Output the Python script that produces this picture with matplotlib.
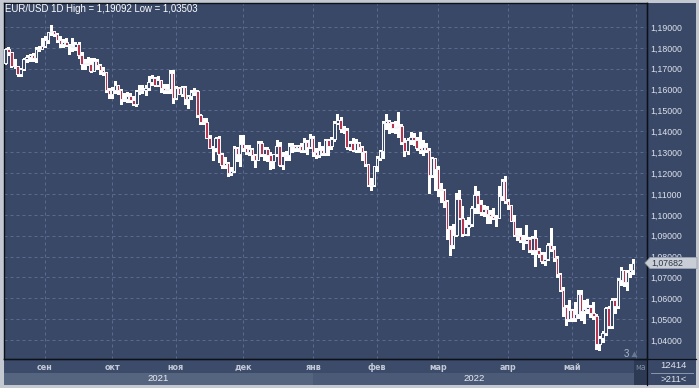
import matplotlib
matplotlib.use("Agg")
import matplotlib.pyplot as plt
from matplotlib.patches import Polygon, Rectangle
import numpy as np
import pandas as pd

# ---------------- data (EUR/USD daily, 13 Aug 2021 .. 30 May 2022) ----------------
start_date = "2021-08-13"
end_date = "2022-05-30"

opens = [
    # Aug
    1.1728, 1.1796, 1.1778, 1.1712, 1.1711, 1.1675, 1.1700, 1.1745, 1.1757, 1.1767, 1.1750, 1.1794, 1.1796,
    # Sep
    1.1808, 1.1840, 1.1874, 1.1880, 1.1868, 1.1838, 1.1818, 1.1826, 1.1813, 1.1808, 1.1805, 1.1818, 1.1765,
    1.1725, 1.1726, 1.1723, 1.1690, 1.1739, 1.1720, 1.1696, 1.1683, 1.1597,
    # Oct
    1.1580, 1.1596, 1.1620, 1.1598, 1.1553, 1.1553, 1.1570, 1.1552, 1.1529, 1.1594, 1.1600, 1.1600, 1.1608,
    1.1635, 1.1655, 1.1622, 1.1645, 1.1607, 1.1598, 1.1602, 1.1680,
    # Nov
    1.1558, 1.1606, 1.1578, 1.1612, 1.1555, 1.1567, 1.1587, 1.1592, 1.1478, 1.1446, 1.1445, 1.1368, 1.1320,
    1.1320, 1.1370, 1.1290, 1.1238, 1.1250, 1.1200, 1.1210, 1.1318, 1.1290,
    # Dec
    1.1338, 1.1320, 1.1300, 1.1315, 1.1285, 1.1265, 1.1343, 1.1290, 1.1315, 1.1285, 1.1258, 1.1290, 1.1330,
    1.1238, 1.1280, 1.1285, 1.1330, 1.1328, 1.1320, 1.1330, 1.1310, 1.1350, 1.1325,
    # Jan
    1.1370, 1.1300, 1.1285, 1.1312, 1.1295, 1.1360, 1.1330, 1.1365, 1.1442, 1.1455, 1.1412, 1.1405, 1.1325,
    1.1345, 1.1312, 1.1345, 1.1325, 1.1300, 1.1242, 1.1145, 1.1145,
    # Feb
    1.1235, 1.1270, 1.1305, 1.1440, 1.1450, 1.1440, 1.1415, 1.1420, 1.1425, 1.1350, 1.1305, 1.1360, 1.1375,
    1.1360, 1.1320, 1.1310, 1.1325, 1.1310, 1.1190, 1.1270,
    # Mar
    1.1220, 1.1125, 1.1120, 1.1065, 1.0930, 1.0855, 1.0905, 1.1075, 1.0985, 1.0910, 1.0940, 1.0955, 1.1035,
    1.1095, 1.1050, 1.1015, 1.1030, 1.1005, 1.0995, 1.0985, 1.0985, 1.1090, 1.1160,
    # Apr
    1.1065, 1.1045, 1.0970, 1.0905, 1.0900, 1.0880, 1.0875, 1.0885, 1.0830, 1.0890, 1.0830, 1.0810, 1.0780,
    1.0790, 1.0855, 1.0835, 1.0795, 1.0715, 1.0640, 1.0560, 1.0500,
    # May
    1.0545, 1.0505, 1.0525, 1.0620, 1.0540, 1.0550, 1.0560, 1.0530, 1.0515, 1.0380, 1.0410, 1.0435, 1.0555,
    1.0465, 1.0590, 1.0565, 1.0690, 1.0735, 1.0680, 1.0725, 1.0735,
]
highs = [
    1.1797, 1.1805, 1.1780, 1.1749, 1.1712, 1.1703, 1.1752, 1.1766, 1.1773, 1.1777, 1.1802, 1.1810, 1.1846,
    1.1857, 1.1878, 1.19092, 1.1883, 1.1870, 1.1856, 1.1843, 1.1847, 1.1817, 1.1845, 1.1830, 1.1829, 1.1779,
    1.1749, 1.1755, 1.1751, 1.1750, 1.1747, 1.1725, 1.1706, 1.1685, 1.1608,
    1.1613, 1.1641, 1.1624, 1.1603, 1.1584, 1.1587, 1.1586, 1.1570, 1.1597, 1.1624, 1.1624, 1.1624, 1.1667,
    1.1668, 1.1660, 1.1664, 1.1645, 1.1625, 1.1625, 1.1692, 1.1692,
    1.1616, 1.1614, 1.1616, 1.1617, 1.1572, 1.1598, 1.1608, 1.1598, 1.1484, 1.1465, 1.1463, 1.1384, 1.1331,
    1.1374, 1.1376, 1.1298, 1.1275, 1.1255, 1.1229, 1.1330, 1.1326, 1.1383,
    1.1383, 1.1334, 1.1336, 1.1322, 1.1292, 1.1355, 1.1353, 1.1325, 1.1325, 1.1300, 1.1292, 1.1360, 1.1347,
    1.1302, 1.1305, 1.1346, 1.1345, 1.1335, 1.1335, 1.1345, 1.1369, 1.1360, 1.1386,
    1.1376, 1.1322, 1.1347, 1.1332, 1.1364, 1.1365, 1.1373, 1.1449, 1.1482, 1.1471, 1.1425, 1.1418, 1.1353,
    1.1369, 1.1363, 1.1347, 1.1330, 1.1307, 1.1242, 1.1175, 1.1236,
    1.1280, 1.1313, 1.1450, 1.1484, 1.1452, 1.1447, 1.1448, 1.1495, 1.1435, 1.1368, 1.1369, 1.1395, 1.1393,
    1.1375, 1.1395, 1.1360, 1.1345, 1.1320, 1.1275, 1.1274,
    1.1233, 1.1154, 1.1122, 1.1070, 1.0945, 1.0955, 1.1105, 1.1120, 1.1043, 1.0975, 1.0990, 1.1040, 1.1138,
    1.1115, 1.1070, 1.1047, 1.1040, 1.1023, 1.1035, 1.1000, 1.1137, 1.1170, 1.1185,
    1.1077, 1.1046, 1.1000, 1.0937, 1.0935, 1.0904, 1.0950, 1.0892, 1.0900, 1.0925, 1.0840, 1.0820, 1.0820,
    1.0866, 1.0936, 1.0850, 1.0805, 1.0720, 1.0655, 1.0570, 1.0590,
    1.0550, 1.0580, 1.0640, 1.0642, 1.0590, 1.0595, 1.0570, 1.0580, 1.0525, 1.0420, 1.0445, 1.0560, 1.0565,
    1.0600, 1.0600, 1.0695, 1.0748, 1.0735, 1.0735, 1.0765, 1.0787,
]
lows = [
    1.1724, 1.1765, 1.1706, 1.1703, 1.1666, 1.1664, 1.1693, 1.1734, 1.1735, 1.1735, 1.1734, 1.1784, 1.1795,
    1.1802, 1.1825, 1.1862, 1.1855, 1.1829, 1.1803, 1.1806, 1.1810, 1.1772, 1.1787, 1.1788, 1.1751, 1.1700,
    1.1700, 1.1717, 1.1684, 1.1687, 1.1701, 1.1677, 1.1668, 1.1589, 1.1562,
    1.1560, 1.1584, 1.1579, 1.1529, 1.1545, 1.1542, 1.1543, 1.1524, 1.1522, 1.1580, 1.1585, 1.1572, 1.1598,
    1.1620, 1.1617, 1.1618, 1.1590, 1.1584, 1.1585, 1.1582, 1.1535,
    1.1555, 1.1577, 1.1570, 1.1531, 1.1513, 1.1553, 1.1575, 1.1470, 1.1435, 1.1433, 1.1367, 1.1319, 1.1264,
    1.1307, 1.1251, 1.1226, 1.1226, 1.1186, 1.1190, 1.1203, 1.1257, 1.1235,
    1.1305, 1.1293, 1.1285, 1.1262, 1.1227, 1.1262, 1.1284, 1.1263, 1.1260, 1.1221, 1.1222, 1.1280, 1.1234,
    1.1221, 1.1263, 1.1265, 1.1303, 1.1305, 1.1304, 1.1300, 1.1300, 1.1290, 1.1320,
    1.1280, 1.1272, 1.1275, 1.1285, 1.1287, 1.1286, 1.1315, 1.1355, 1.1434, 1.1396, 1.1390, 1.1316, 1.1313,
    1.1304, 1.1301, 1.1303, 1.1265, 1.1236, 1.1136, 1.1121, 1.1139,
    1.1212, 1.1262, 1.1270, 1.1411, 1.1391, 1.1397, 1.1393, 1.1373, 1.1340, 1.1280, 1.1290, 1.1340, 1.1335,
    1.1310, 1.1297, 1.1288, 1.1300, 1.1106, 1.1180, 1.1120,
    1.1090, 1.1060, 1.1038, 1.0885, 1.0806, 1.0840, 1.0900, 1.0978, 1.0900, 1.0905, 1.0903, 1.0945, 1.1010,
    1.1007, 1.1000, 1.0995, 1.0962, 1.0960, 1.0980, 1.0945, 1.0985, 1.1070, 1.1058,
    1.1027, 1.0970, 1.0900, 1.0880, 1.0870, 1.0837, 1.0865, 1.0822, 1.0810, 1.0757, 1.0800, 1.0770, 1.0760,
    1.0785, 1.0825, 1.0780, 1.0700, 1.0635, 1.0515, 1.0470, 1.0490,
    1.0490, 1.0492, 1.0505, 1.0495, 1.0483, 1.0530, 1.0510, 1.0500, 1.0355, 1.03503, 1.0389, 1.0425, 1.0460,
    1.0460, 1.0530, 1.0555, 1.0665, 1.0660, 1.0640, 1.0700, 1.0715,
]
closes = [
    1.1796, 1.1778, 1.1712, 1.1711, 1.1675, 1.1700, 1.1745, 1.1757, 1.1767, 1.1750, 1.1794, 1.1796, 1.1808,
    1.1840, 1.1874, 1.1880, 1.1868, 1.1838, 1.1818, 1.1826, 1.1813, 1.1808, 1.1805, 1.1818, 1.1765, 1.1725,
    1.1726, 1.1723, 1.1690, 1.1739, 1.1720, 1.1696, 1.1683, 1.1597, 1.1580,
    1.1596, 1.1620, 1.1598, 1.1553, 1.1553, 1.1570, 1.1552, 1.1529, 1.1594, 1.1600, 1.1600, 1.1608, 1.1635,
    1.1655, 1.1622, 1.1645, 1.1607, 1.1598, 1.1602, 1.1680, 1.1558,
    1.1606, 1.1578, 1.1612, 1.1555, 1.1567, 1.1587, 1.1592, 1.1478, 1.1446, 1.1445, 1.1368, 1.1320, 1.1320,
    1.1370, 1.1290, 1.1238, 1.1250, 1.1200, 1.1210, 1.1318, 1.1290, 1.1338,
    1.1320, 1.1300, 1.1315, 1.1285, 1.1265, 1.1343, 1.1290, 1.1315, 1.1285, 1.1258, 1.1290, 1.1330, 1.1238,
    1.1280, 1.1285, 1.1330, 1.1328, 1.1320, 1.1330, 1.1310, 1.1350, 1.1325, 1.1370,
    1.1300, 1.1285, 1.1312, 1.1295, 1.1360, 1.1330, 1.1365, 1.1442, 1.1455, 1.1412, 1.1405, 1.1325, 1.1345,
    1.1312, 1.1345, 1.1325, 1.1300, 1.1242, 1.1145, 1.1145, 1.1235,
    1.1270, 1.1305, 1.1440, 1.1450, 1.1440, 1.1415, 1.1420, 1.1425, 1.1350, 1.1305, 1.1360, 1.1375, 1.1360,
    1.1320, 1.1310, 1.1325, 1.1310, 1.1190, 1.1270, 1.1220,
    1.1125, 1.1120, 1.1065, 1.0930, 1.0855, 1.0905, 1.1075, 1.0985, 1.0910, 1.0940, 1.0955, 1.1035, 1.1095,
    1.1050, 1.1015, 1.1030, 1.1005, 1.0995, 1.0985, 1.0985, 1.1090, 1.1160, 1.1065,
    1.1045, 1.0970, 1.0905, 1.0900, 1.0880, 1.0875, 1.0885, 1.0830, 1.0890, 1.0830, 1.0810, 1.0780, 1.0790,
    1.0855, 1.0835, 1.0795, 1.0715, 1.0640, 1.0560, 1.0500, 1.0545,
    1.0505, 1.0525, 1.0620, 1.0540, 1.0550, 1.0560, 1.0530, 1.0515, 1.0380, 1.0410, 1.0435, 1.0555, 1.0465,
    1.0590, 1.0565, 1.0690, 1.0735, 1.0680, 1.0725, 1.0735, 1.07682,
]

month_names = {1: "янв", 2: "фев", 3: "мар", 4: "апр", 5: "май", 6: "июн",
               7: "июл", 8: "авг", 9: "сен", 10: "окт", 11: "ноя", 12: "дек"}
price_ticks = [1.04, 1.05, 1.06, 1.07, 1.08, 1.09, 1.10, 1.11, 1.12, 1.13,
               1.14, 1.15, 1.16, 1.17, 1.18, 1.19]
title_text = "EUR/USD 1D High = 1,19092 Low = 1,03503"
last_price_text = "1,07682"
info_top = "12414"
info_bottom = ">211<"
marker_text = "3"

# ---------------- layout helpers ----------------
W, H = 699, 388
BG = "#3a4868"
GRID = "#5a6a8c"
RED = "#b8354f"
TEXT = "#dde2ea"


def fx(px):
    return px / W


def fy(py):
    return 1 - py / H


dates = pd.bdate_range(start_date, end_date)
n = len(dates)
idx = np.arange(n)
o = np.array(opens); h = np.array(highs); l = np.array(lows); c = np.array(closes)

month_pos, month_lab = [], []
for i in range(1, n):
    if dates[i].month != dates[i - 1].month:
        month_pos.append(i)
        month_lab.append(month_names[dates[i].month])
nxt = dates[-1] + pd.offsets.BDay(1)
extra_pos = n
extra_lab = month_names[nxt.month]
year_change = [i for i in range(1, n) if dates[i].year != dates[i - 1].year][0]

fig = plt.figure(figsize=(W / 100, H / 100), dpi=100, facecolor="#c4c9d1")

L, R, T, B = 3.5, 647, 3, 358.5
axr = fig.add_axes([fx(R), fy(B), fx(696 - R), (B - T) / H])
axr.set_facecolor(BG)
axr.set_xticks([]); axr.set_yticks([])
for s in axr.spines.values():
    s.set_visible(False)

BB = 385
axb = fig.add_axes([fx(L), fy(BB), fx(R - L), (BB - B) / H])
axb.set_facecolor("#3d4b6a")
axb.set_xticks([]); axb.set_yticks([])
for s in axb.spines.values():
    s.set_visible(False)

axi = fig.add_axes([fx(R), fy(BB), fx(696 - R), (BB - B) / H])
axi.set_facecolor(BG)
axi.set_xticks([]); axi.set_yticks([])
for s in axi.spines.values():
    s.set_visible(False)

ax = fig.add_axes([fx(L), fy(B), fx(R - L), (B - T) / H])
ax.set_facecolor(BG)
x_left, x_right = -0.62, 210.6
ax.set_xlim(x_left, x_right)
ax.set_ylim(1.03116, 1.2015)
for s in ax.spines.values():
    s.set_color("#0c1018")
    s.set_linewidth(1.0)

for p in price_ticks:
    ax.axhline(p, color=GRID, lw=0.72, ls=(0, (3, 3)), zorder=0)
for mp in month_pos + [extra_pos]:
    ax.axvline(mp, color=GRID, lw=0.72, ls=(0, (3, 3)), zorder=0)

# candles
ax.vlines(idx, l, h, color="white", lw=0.75, zorder=2, antialiased=False)
up = c >= o
body_bottom = np.minimum(o, c)
body_h = np.abs(c - o)
fills = [BG if u else RED for u in up]
ax.bar(idx, body_h, bottom=body_bottom, width=0.8, color=fills,
       edgecolor="#f4f6fa", linewidth=0.7, zorder=3, antialiased=False)

ax.yaxis.tick_right()
ax.set_yticks(price_ticks)
ax.set_yticklabels([f"{p:.5f}".replace(".", ",") for p in price_ticks],
                   fontsize=6.3, color=TEXT, family="Liberation Sans")
ax.tick_params(axis="y", length=0, pad=2.5)
ax.set_xticks([])

fig.text(fx(5), fy(9), title_text, fontsize=6.9, color="white",
         family="Liberation Sans", va="center", ha="left")

# last price tag (covers the 1,08000 label partly, as in the reference)
tag_y = fy(263)
poly = Polygon([[fx(645), tag_y], [fx(650), fy(257.5)], [fx(697), fy(257.5)],
                [fx(697), fy(268.5)], [fx(650), fy(268.5)]],
               closed=True, transform=fig.transFigure, facecolor="#c9ced6",
               edgecolor="#9aa2b0", lw=0.6, zorder=10)
fig.patches.append(poly)
fig.text(fx(651), tag_y, last_price_text, fontsize=6.3, color="#2c3444",
         family="Liberation Sans", va="center", ha="left", zorder=11)

fig.text(fx(626), fy(354), marker_text, fontsize=7, color="#aab6ca",
         family="Liberation Sans", va="center", ha="center")
tri = Polygon([[fx(631.5), fy(357)], [fx(637.5), fy(357)], [fx(634.5), fy(351.5)]],
              closed=True, transform=fig.transFigure, facecolor="#6b7892",
              edgecolor="none", zorder=10)
fig.patches.append(tri)

axb.set_xlim(x_left, x_right)
axb.set_ylim(0, 1)
yr_split = (BB - 372.5) / (BB - B)
axb.add_patch(Rectangle((x_left, 0), year_change - x_left, yr_split,
                        facecolor="#56657f", edgecolor="none"))
axb.add_patch(Rectangle((year_change, 0), x_right - year_change, yr_split,
                        facecolor="#4b5a76", edgecolor="none"))
for mp, lab in zip(month_pos, month_lab):
    axb.text(mp, (BB - 367.5) / (BB - B), lab, fontsize=5.8, color="#c3cad8",
             ha="center", va="center", family="DejaVu Sans", weight="bold")
axb.add_patch(Rectangle((x_right - 4.3, 0), 4.3, 1, facecolor="#2d3a54",
                        edgecolor="none", zorder=3))
axb.text(x_right - 2.15, (BB - 367.5) / (BB - B), extra_lab[:2], fontsize=5.5,
         color="#7d8aa3", ha="center", va="center", family="DejaVu Sans", zorder=4)
axb.text((x_left + year_change) / 2, (BB - 378.5) / (BB - B), str(dates[0].year),
         fontsize=6.8, color="#e8ecf2", ha="center", va="center", family="Liberation Sans")
axb.text((year_change + n) / 2, (BB - 378.5) / (BB - B), str(dates[-1].year),
         fontsize=6.8, color="#e8ecf2", ha="center", va="center", family="Liberation Sans")

axi.set_xlim(0, 1); axi.set_ylim(0, 1)
axi.text(0.55, (BB - 366) / (BB - B), info_top, fontsize=6.8, color="#e0e4ea",
         ha="center", va="center", family="Liberation Sans")
axi.plot([0.08, 0.94], [(BB - 373) / (BB - B)] * 2, color="#8a96ab", lw=0.7)
axi.text(0.55, (BB - 379) / (BB - B), info_bottom, fontsize=6.8, color="#e0e4ea",
         ha="center", va="center", family="Liberation Sans")

fig.add_artist(plt.Line2D([fx(R), fx(R)], [fy(BB), fy(T)], color="#0c1018",
                          lw=0.9, transform=fig.transFigure))
fig.add_artist(plt.Line2D([fx(L), fx(696)], [fy(B), fy(B)], color="#0c1018",
                          lw=0.9, transform=fig.transFigure))

fig.savefig("out.png", dpi=100, facecolor=fig.get_facecolor())
